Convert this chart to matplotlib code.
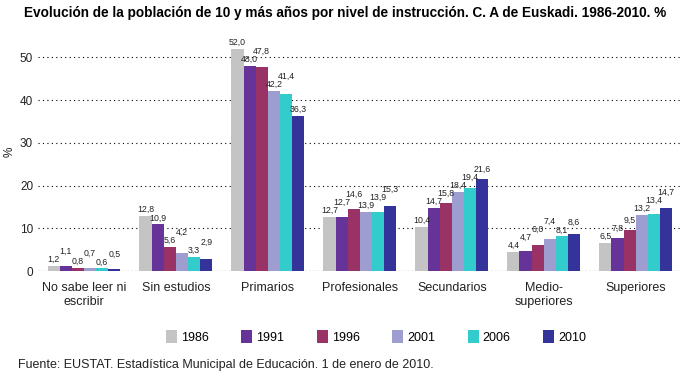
import matplotlib
matplotlib.use('Agg')
import matplotlib.pyplot as plt
import numpy as np

plt.rcParams['font.family'] = ['Liberation Sans', 'DejaVu Sans']

# datos: poblacion de 10 y mas anos por nivel de instruccion (%)
categorias = ['No sabe leer ni\nescribir', 'Sin estudios', 'Primarios', 'Profesionales',
              'Secundarios', 'Medio-\nsuperiores', 'Superiores']
anios = ['1986', '1991', '1996', '2001', '2006', '2010']
v1986 = [1.2, 12.8, 52.0, 12.7, 10.4, 4.4, 6.5]
v1991 = [1.1, 10.9, 48.0, 12.7, 14.7, 4.7, 7.8]
v1996 = [0.8, 5.6, 47.8, 14.6, 15.8, 6.0, 9.5]
v2001 = [0.7, 4.2, 42.2, 13.9, 18.4, 7.4, 13.2]
v2006 = [0.6, 3.3, 41.4, 13.9, 19.4, 8.1, 13.4]
v2010 = [0.5, 2.9, 36.3, 15.3, 21.6, 8.6, 14.7]
series = [v1986, v1991, v1996, v2001, v2006, v2010]
colores = ['#C4C4C4', '#663399', '#993366', '#9D9DCF', '#33CCCC', '#333399']

fig = plt.figure(figsize=(6.9, 3.78), dpi=100)
ax = fig.add_axes([0.055, 0.283, 0.933, 0.622])

x = np.arange(len(categorias))
ancho = 0.132
px_por_unidad = 0.622 * 378 / 55  # pixeles por punto porcentual

for i, (vals, col, anio) in enumerate(zip(series, colores, anios)):
    ax.bar(x + (i - 2.5) * ancho, vals, ancho, color=col, label=anio, linewidth=0)

# etiquetas, subiendo las que chocan con la de la barra anterior
for j in range(len(categorias)):
    prev_y = None
    for i, vals in enumerate(series):
        v = vals[j]
        y_px = v * px_por_unidad + 2
        if prev_y is not None and abs(y_px - prev_y) < 8:
            y_px = prev_y + 8
        prev_y = y_px
        ax.annotate(('%.1f' % v).replace('.', ','),
                    (x[j] + (i - 2.5) * ancho, v),
                    xytext=(0, (y_px - v * px_por_unidad) * 0.72), textcoords='offset points',
                    ha='center', va='bottom', fontsize=6.3, color='#222222')

ax.set_xlim(-0.5, 6.5)
ax.set_ylim(0, 55)
ax.set_yticks([0, 10, 20, 30, 40, 50])
ax.yaxis.grid(True, color='black', linestyle=(0, (1, 3)), linewidth=0.8)
ax.set_axisbelow(True)
for s in ax.spines.values():
    s.set_visible(False)
ax.axhline(0, color='black', linestyle=(0, (1, 2)), linewidth=0.8, zorder=0)
ax.tick_params(length=0, labelsize=8.5, colors='#222222')
ax.tick_params(axis='x', pad=8)
ax.set_xticks(x)
ax.set_xticklabels(categorias, fontsize=9)

fig.text(0.014, 1 - 152 / 378, '%', rotation=90, ha='center', va='center', fontsize=8.5, color='#222222')

fig.text(0.5, 0.965, 'Evolución de la población de 10 y más años por nivel de instrucción. C. A de Euskadi. 1986-2010. %',
         ha='center', va='center', fontsize=9.8, fontweight='bold')

fig.legend(loc='center', bbox_to_anchor=(0.545, 1 - 337 / 378), ncol=6, frameon=False,
           fontsize=9, handlelength=0.9, handleheight=1.2, handletextpad=0.3, columnspacing=2.6)

fig.text(0.026, 1 - 365 / 378, 'Fuente: EUSTAT. Estadística Municipal de Educación. 1 de enero de 2010.',
         ha='left', va='center', fontsize=9, color='#222222')

fig.savefig('out.png', dpi=100)
